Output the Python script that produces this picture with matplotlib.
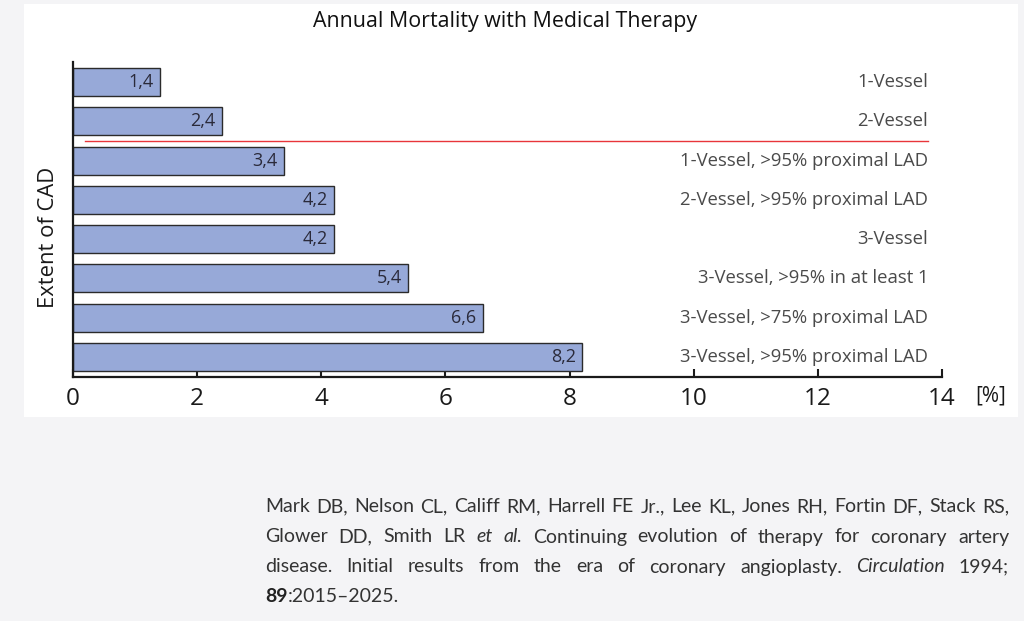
import matplotlib
matplotlib.use("Agg")
import matplotlib.pyplot as plt
from matplotlib.patches import Rectangle

categories = ["1-Vessel", "2-Vessel", "1-Vessel, >95% proximal LAD",
              "2-Vessel, >95% proximal LAD", "3-Vessel",
              "3-Vessel, >95% in at least 1", "3-Vessel, >75% proximal LAD",
              "3-Vessel, >95% proximal LAD"]
values = [1.4, 2.4, 3.4, 4.2, 4.2, 5.4, 6.6, 8.2]
value_labels = ["1,4", "2,4", "3,4", "4,2", "4,2", "5,4", "6,6", "8,2"]
xticks = [0, 2, 4, 6, 8, 10, 12, 14]

W, H = 1024, 621
fig = plt.figure(figsize=(W / 100, H / 100), dpi=100)
fig.patch.set_facecolor("#f4f4f6")
fig.patches.append(Rectangle((24 / W, 1 - 417 / H), (1018 - 24) / W, (417 - 4) / H,
                             transform=fig.transFigure, facecolor="white",
                             edgecolor="none", zorder=-5))

FONT = "Open Sans"
ax = fig.add_axes([73 / W, 1 - 377 / H, (942 - 73) / W, (377 - 62) / H])
ax.set_zorder(2)
ax.set_facecolor("none")
n = len(values)
ypos = [n - 1 - i for i in range(n)]
ax.barh(ypos, values, height=0.71, color="#97a9d8", edgecolor="#2b2b2b",
        linewidth=1.0, zorder=2)
for y, v, lab, cat in zip(ypos, values, value_labels, categories):
    ax.text(v - 0.1, y, lab, ha="right", va="center", fontsize=13,
            family=FONT, color="#2a2a3a", zorder=3)
    ax.text(13.78, y, cat, ha="right", va="center", fontsize=13.3,
            family=FONT, color="#4a4a4a", zorder=3)

# separator line between 2-Vessel and 1-Vessel LAD
ax.plot([0.19, 13.78], [5.5, 5.5], color="#e8353a", linewidth=1.0, zorder=3)

ax.set_xlim(0, 14)
ax.set_ylim(-0.51, 7.51)
ax.set_xticks(xticks)
ax.set_xticklabels([str(t) for t in xticks], fontsize=17.5, family=FONT, color="#1a1a1a")
ax.set_yticks([])
ax.tick_params(axis="x", direction="in", length=6, width=1.5, color="#1a1a1a", pad=7)
for s in ["top", "right"]:
    ax.spines[s].set_visible(False)
for s in ["left", "bottom"]:
    ax.spines[s].set_linewidth(1.6)
    ax.spines[s].set_color("#1a1a1a")
ax.set_ylabel("Extent of CAD", fontsize=15.8, family=FONT, color="#1a1a1a")
ax.yaxis.set_label_coords(-14 / 869, (377 - 237) / 315)
ax.text((975 - 73) / 869, (377 - 396) / 315, "[%]", transform=ax.transAxes, ha="left",
        va="center", fontsize=15, family=FONT, color="#1a1a1a")

fig.text(505 / W, 1 - 21 / H, "Annual Mortality with Medical Therapy", ha="center",
         va="center", fontsize=15.4, family=FONT, color="#111111")

# Citation (justified)
CF = "Lato"
CS = 14
cite_lines = [
    [("Mark", "n"), ("DB,", "n"), ("Nelson", "n"), ("CL,", "n"), ("Califf", "n"), ("RM,", "n"),
     ("Harrell", "n"), ("FE", "n"), ("Jr.,", "n"), ("Lee", "n"), ("KL,", "n"), ("Jones", "n"),
     ("RH,", "n"), ("Fortin", "n"), ("DF,", "n"), ("Stack", "n"), ("RS,", "n")],
    [("Glower", "n"), ("DD,", "n"), ("Smith", "n"), ("LR", "n"), ("et", "i"), ("al.", "i"),
     ("Continuing", "n"), ("evolution", "n"), ("of", "n"), ("therapy", "n"), ("for", "n"),
     ("coronary", "n"), ("artery", "n")],
    [("disease.", "n"), ("Initial", "n"), ("results", "n"), ("from", "n"), ("the", "n"),
     ("era", "n"), ("of", "n"), ("coronary", "n"), ("angioplasty.", "n"),
     ("Circulation", "i"), ("1994;", "n")],
]
x0, x1 = 265, 1009
line_y = [507, 537, 567, 597]
fig.canvas.draw()
r = fig.canvas.get_renderer()
for words, yy in zip(cite_lines, line_y):
    texts = []
    for w, st in words:
        t = fig.text(0, 1 - yy / H, w, ha="left", va="center", fontsize=CS, family=CF,
                     style="italic" if st == "i" else "normal", color="#333333")
        texts.append(t)
    widths = [t.get_window_extent(r).width for t in texts]
    gap = (x1 - x0 - sum(widths)) / (len(texts) - 1)
    x = x0
    for t, wd in zip(texts, widths):
        t.set_x(x / W)
        x += wd + gap
t1 = fig.text(x0 / W, 1 - line_y[3] / H, "89", ha="left", va="center", fontsize=CS,
              family=CF, weight="bold", color="#222222")
fig.canvas.draw()
wb = t1.get_window_extent(r).width
fig.text((x0 + wb) / W, 1 - line_y[3] / H, ":2015\u20132025.", ha="left", va="center",
         fontsize=CS, family=CF, color="#333333")

fig.savefig("out.png", dpi=100, facecolor=fig.get_facecolor())
